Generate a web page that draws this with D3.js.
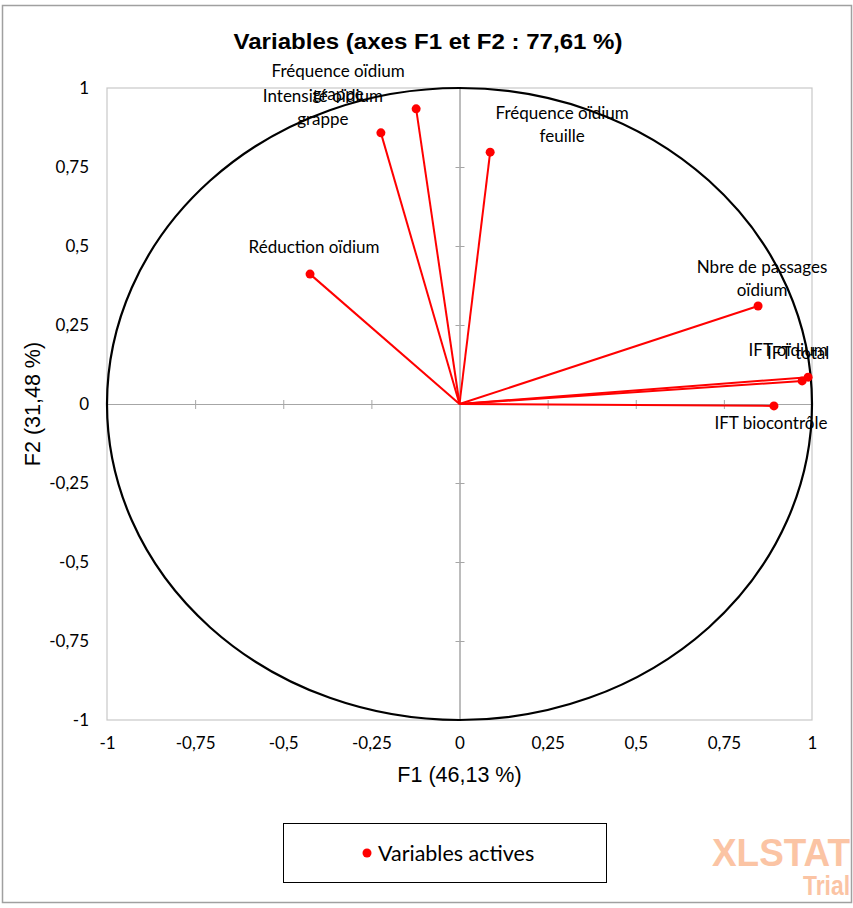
<!DOCTYPE html>
<html>
<head>
<meta charset="utf-8">
<script src="https://cdn.jsdelivr.net/npm/d3@7"></script>
<style>
  body { margin: 0; background: #fff; }
  svg text { fill: #000; }
  .lbl { font-family: Lato, "Open Sans", sans-serif; font-size: 17px; }
  .tick text { font-family: Lato, "Open Sans", sans-serif; font-size: 17px; }
</style>
</head>
<body>
<div id="chart"></div>
<script>
// variables of the correlation circle (F1, F2 coordinates)
const variableNames = [
  "Fréquence oïdium grappe",
  "Intensité oïdium grappe",
  "Fréquence oïdium feuille",
  "Réduction oïdium",
  "Nbre de passages oïdium",
  "IFT total",
  "IFT oïdium",
  "IFT biocontrôle"
];
const f1Values = [-0.123, -0.223, 0.087, -0.424, 0.847, 0.989, 0.972, 0.892];
const f2Values = [0.934, 0.858, 0.797, 0.411, 0.310, 0.085, 0.073, -0.006];
const tickValues = [-1, -0.75, -0.5, -0.25, 0, 0.25, 0.5, 0.75, 1];

const titleText = "Variables (axes F1 et F2 : 77,61 %)";
const xTitle = "F1 (46,13 %)";
const yTitle = "F2 (31,48 %)";
const legendText = "Variables actives";

// label offsets (pixels, relative to point) - layout only
const labelOffset = {
  "Fréquence oïdium grappe": [-78, -38],
  "Intensité oïdium grappe": [-58, -37],
  "Fréquence oïdium feuille": [72, -39],
  "Réduction oïdium": [4, -27],
  "Nbre de passages oïdium": [4, -39],
  "IFT total": [-10, -24],
  "IFT oïdium": [-14, -31],
  "IFT biocontrôle": [-3, 17]
};

const width = 853, height = 908;
const plot = {left: 107, right: 812, top: 88, bottom: 720};

let svg = d3.select("#chart").append("svg")
    .attr("width", width)
    .attr("height", height);

// outer chart border
svg.append("rect")
    .attr("x", 2.5).attr("y", 5.5)
    .attr("width", 849).attr("height", 897)
    .attr("fill", "#fff")
    .attr("stroke", "#a0a0a0")
    .attr("stroke-width", 1.5);

let x = d3.scaleLinear().domain([-1, 1]).range([plot.left, plot.right]);
let y = d3.scaleLinear().domain([-1, 1]).range([plot.bottom, plot.top]);

// plot area border
svg.append("rect")
    .attr("x", plot.left).attr("y", plot.top)
    .attr("width", plot.right - plot.left)
    .attr("height", plot.bottom - plot.top)
    .attr("fill", "none")
    .attr("stroke", "#c8c8c8")
    .attr("stroke-width", 1.2);

// title
svg.append("text")
    .attr("x", 428).attr("y", 49)
    .attr("text-anchor", "middle")
    .attr("textLength", 389)
    .attr("lengthAdjust", "spacingAndGlyphs")
    .style("font-family", "'Liberation Sans', Arial, sans-serif")
    .style("font-weight", "bold")
    .style("font-size", "22px")
    .text(titleText);

// outer tick labels
let xAxis = svg.append("g")
    .attr("transform", "translate(0," + plot.bottom + ")")
    .call(d3.axisBottom(x).tickValues(tickValues).tickSize(0).tickPadding(17)
        .tickFormat(d => String(d).replace(".", ",")));
xAxis.select(".domain").remove();

let yAxis = svg.append("g")
    .attr("transform", "translate(" + plot.left + ",0)")
    .call(d3.axisLeft(y).tickValues(tickValues).tickSize(0).tickPadding(18)
        .tickFormat(d => String(d).replace(".", ",")));
yAxis.select(".domain").remove();

// inner axes through the origin with crossing ticks
const innerTicks = tickValues.filter(d => d !== 0 && Math.abs(d) !== 1);
function innerAxis(g) {
    g.selectAll("path.domain").attr("stroke", "#a6a6a6");
    g.selectAll(".tick line").attr("stroke", "#a6a6a6");
    g.selectAll(".tick text").remove();
}
svg.append("g").attr("transform", "translate(0," + y(0) + ")")
    .call(d3.axisBottom(x).tickValues(innerTicks).tickSizeInner(5).tickSizeOuter(0))
    .call(innerAxis);
svg.append("g").attr("transform", "translate(0," + y(0) + ")")
    .call(d3.axisTop(x).tickValues(innerTicks).tickSizeInner(4).tickSizeOuter(0))
    .call(innerAxis);
svg.append("g").attr("transform", "translate(" + x(0) + ",0)")
    .call(d3.axisLeft(y).tickValues(innerTicks).tickSizeInner(4).tickSizeOuter(0))
    .call(innerAxis);
svg.append("g").attr("transform", "translate(" + x(0) + ",0)")
    .call(d3.axisRight(y).tickValues(innerTicks).tickSizeInner(5).tickSizeOuter(0))
    .call(innerAxis);

// correlation circle
svg.append("ellipse")
    .attr("cx", x(0)).attr("cy", y(0))
    .attr("rx", x(1) - x(0)).attr("ry", y(0) - y(1))
    .attr("fill", "none")
    .attr("stroke", "#000")
    .attr("stroke-width", 2.2);

// axis titles
svg.append("text")
    .attr("x", x(0)).attr("y", 782)
    .attr("text-anchor", "middle")
    .style("font-family", "'Liberation Sans', Arial, sans-serif")
    .style("font-size", "21.5px")
    .text(xTitle);
svg.append("text")
    .attr("transform", "translate(40," + y(0) + ") rotate(-90)")
    .attr("text-anchor", "middle")
    .style("font-family", "'Liberation Sans', Arial, sans-serif")
    .style("font-size", "21.5px")
    .text(yTitle);

// vectors
let data = variableNames.map((n, i) => ({name: n, f1: f1Values[i], f2: f2Values[i]}));

svg.append("g").selectAll("line")
    .data(data)
    .enter()
    .append("line")
    .attr("x1", x(0)).attr("y1", y(0))
    .attr("x2", d => x(d.f1)).attr("y2", d => y(d.f2))
    .attr("stroke", "#ff0000")
    .attr("stroke-width", 2);

svg.append("g").selectAll("circle")
    .data(data)
    .enter()
    .append("circle")
    .attr("cx", d => x(d.f1)).attr("cy", d => y(d.f2))
    .attr("r", 4.5)
    .attr("fill", "#ff0000");

// wrap labels to lines of at most 16 characters
function wrapLabel(s) {
    let words = s.split(" "), lines = [], cur = "";
    words.forEach(function(w) {
        let t = cur ? cur + " " + w : w;
        if (t.length > 16 && cur) { lines.push(cur); cur = w; }
        else cur = t;
    });
    lines.push(cur);
    return lines;
}

let labels = svg.append("g").selectAll("text")
    .data(data)
    .enter()
    .append("text")
    .attr("class", "lbl")
    .attr("text-anchor", "middle")
    .attr("x", d => x(d.f1) + labelOffset[d.name][0])
    .attr("y", d => y(d.f2) + labelOffset[d.name][1]);
labels.each(function(d) {
    let el = d3.select(this);
    let cx = x(d.f1) + labelOffset[d.name][0];
    wrapLabel(d.name).forEach(function(line, i) {
        el.append("tspan")
            .attr("x", cx)
            .attr("dy", i === 0 ? "0.35em" : 23)
            .text(line);
    });
});

// legend
let legend = svg.append("g");
legend.append("rect")
    .attr("x", 283.5).attr("y", 823.5)
    .attr("width", 323).attr("height", 59)
    .attr("fill", "#fff")
    .attr("stroke", "#000")
    .attr("stroke-width", 1);
legend.append("circle")
    .attr("cx", 367).attr("cy", 853)
    .attr("r", 4.5)
    .attr("fill", "#ff0000");
legend.append("text")
    .attr("x", 378).attr("y", 853)
    .attr("dy", "0.35em")
    .style("font-family", "Lato, 'Open Sans', sans-serif")
    .style("font-size", "21.5px")
    .text(legendText);

// watermark
svg.append("text")
    .attr("x", 850).attr("y", 866)
    .attr("text-anchor", "end")
    .attr("textLength", 138)
    .attr("lengthAdjust", "spacingAndGlyphs")
    .style("font-family", "'Liberation Sans', Arial, sans-serif")
    .style("font-weight", "bold")
    .style("font-size", "38px")
    .style("fill", "#fbc4a4")
    .text("XLSTAT");
svg.append("text")
    .attr("x", 850).attr("y", 895)
    .attr("text-anchor", "end")
    .attr("textLength", 47)
    .attr("lengthAdjust", "spacingAndGlyphs")
    .style("font-family", "'Liberation Sans', Arial, sans-serif")
    .style("font-weight", "bold")
    .style("font-size", "28px")
    .style("fill", "#fbc4a4")
    .text("Trial");
</script>
</body>
</html>
